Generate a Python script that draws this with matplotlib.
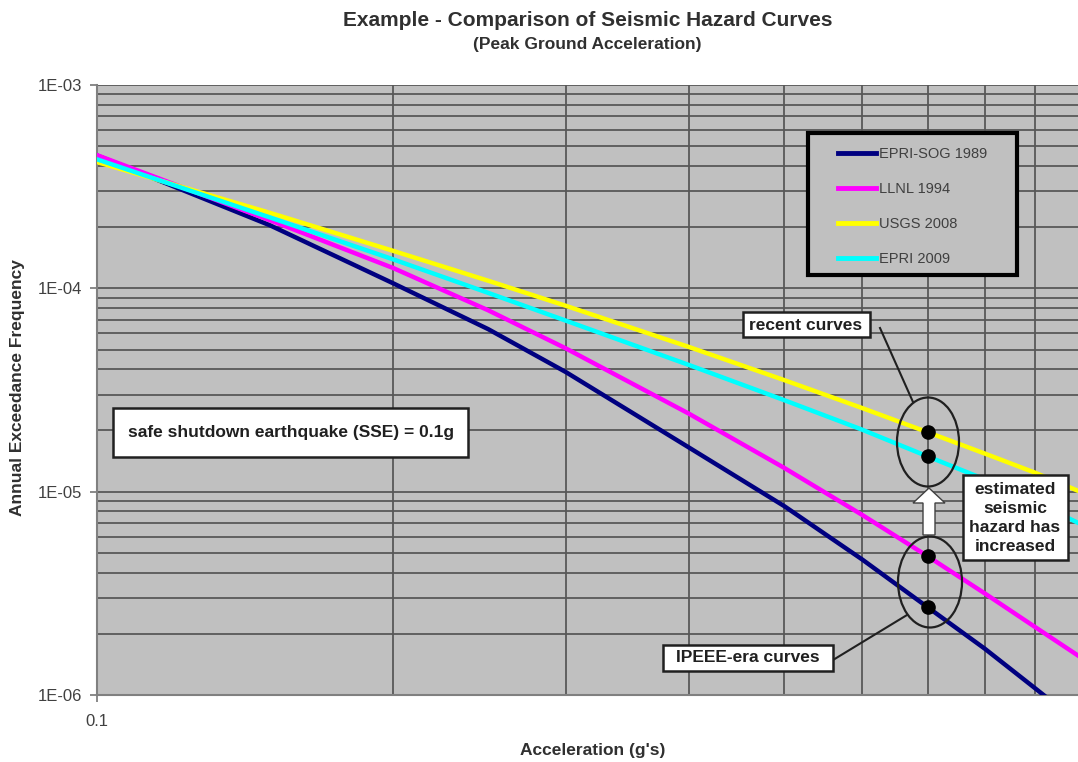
import matplotlib
matplotlib.use("Agg")
import matplotlib.pyplot as plt
from matplotlib.patches import Rectangle, Ellipse, Polygon
from matplotlib.lines import Line2D
from matplotlib.ticker import FixedLocator, LogLocator, NullFormatter, FixedFormatter

# ---------------- data ----------------
accel = [0.1, 0.15, 0.2, 0.25, 0.3, 0.4, 0.5, 0.6, 0.7, 0.8, 0.9, 1.0]
epri_sog_1989 = [4.5e-4, 2.04e-4, 1.06e-4, 6.3e-5, 3.87e-5, 1.65e-5, 8.5e-6, 4.65e-6, 2.7e-6, 1.69e-6, 1.08e-6, 7.2e-7]
llnl_1994 = [4.52e-4, 2.16e-4, 1.26e-4, 7.8e-5, 5.06e-5, 2.42e-5, 1.31e-5, 7.7e-6, 4.81e-6, 3.16e-6, 2.16e-6, 1.54e-6]
usgs_2008 = [4.18e-4, 2.35e-4, 1.53e-4, 1.09e-4, 8.2e-5, 5.15e-5, 3.54e-5, 2.58e-5, 1.96e-5, 1.54e-5, 1.24e-5, 1.0e-5]
epri_2009 = [4.31e-4, 2.23e-4, 1.39e-4, 9.5e-5, 6.93e-5, 4.2e-5, 2.82e-5, 2.02e-5, 1.49e-5, 1.15e-5, 8.9e-6, 6.95e-6]
series_names = ["EPRI-SOG 1989", "LLNL 1994", "USGS 2008", "EPRI 2009"]
series_colors = ["#000080", "#FF00FF", "#FFFF00", "#00FFFF"]
highlight_accel = 0.7

y_ticks = [1e-6, 1e-5, 1e-4, 1e-3]
y_tick_labels = ["1E-06", "1E-05", "1E-04", "1E-03"]
x_ticks = [0.1, 1.0]
x_tick_labels = ["0.1", ""]

title = "Example - Comparison of Seismic Hazard Curves"
subtitle = "(Peak Ground Acceleration)"
x_label = "Acceleration (g's)"
y_label = "Annual Exceedance Frequency"
sse_note = "safe shutdown earthquake (SSE) = 0.1g"
recent_note = "recent curves"
ipeee_note = "IPEEE-era curves"
increase_note = "estimated\nseismic\nhazard has\nincreased"

# ---------------- figure ----------------
plt.rcParams['font.family'] = ['Liberation Sans', 'DejaVu Sans']
fig = plt.figure(figsize=(10.78, 7.62), dpi=100)
W, H = 1078, 762
ax_l, ax_r, ax_t, ax_b = 97, 1080, 85, 695
ax = fig.add_axes([ax_l / W, 1 - ax_b / H, (ax_r - ax_l) / W, (ax_b - ax_t) / H])
ax.set_facecolor("#C0C0C0")
ax.set_xscale("log")
ax.set_yscale("log")
ax.set_xlim(0.1, 1.0)
ax.set_ylim(1e-6, 1e-3)

def fx(px):
    return (px - ax_l) / (ax_r - ax_l)

def fy(py):
    return (ax_b - py) / (ax_b - ax_t)

all_series = [epri_sog_1989, llnl_1994, usgs_2008, epri_2009]
for vals, name, col in zip(all_series, series_names, series_colors):
    ax.plot(accel, vals, color=col, lw=3.2, label=name, zorder=3,
            solid_joinstyle="round")

# highlighted points
idx = accel.index(highlight_accel)
ax.plot([highlight_accel] * 4, [s[idx] for s in all_series], 'o', color="black",
        ms=9.5, zorder=8, linestyle="none")

# ticks / grid
ax.yaxis.set_major_locator(FixedLocator(y_ticks))
ax.yaxis.set_major_formatter(FixedFormatter(y_tick_labels))
ax.yaxis.set_minor_locator(LogLocator(base=10, subs=range(2, 10)))
ax.yaxis.set_minor_formatter(NullFormatter())
ax.xaxis.set_major_locator(FixedLocator(x_ticks))
ax.xaxis.set_major_formatter(FixedFormatter(x_tick_labels))
ax.xaxis.set_minor_locator(LogLocator(base=10, subs=range(2, 10)))
ax.xaxis.set_minor_formatter(NullFormatter())
ax.grid(which="both", color="#585858", lw=1.3)
ax.set_axisbelow(True)
ax.tick_params(which="major", length=5, width=1.3, color="#808080",
               labelsize=12, labelcolor="#404040")
ax.tick_params(axis="y", pad=6)
ax.tick_params(axis="x", pad=9)
ax.tick_params(which="minor", length=0)
for s in ["top", "right"]:
    ax.spines[s].set_visible(False)
for s in ["left", "bottom"]:
    ax.spines[s].set_color("#808080")
    ax.spines[s].set_linewidth(1.5)

# titles & labels
fig.text((ax_l + 1078) / 2 / W, 1 - 20 / H, title, ha="center", va="center",
         fontsize=15, fontweight="bold", color="#303030")
fig.text((ax_l + 1078) / 2 / W, 1 - 44 / H, subtitle, ha="center", va="center",
         fontsize=12.5, fontweight="bold", color="#303030")
fig.text(593 / W, 1 - 751 / H, x_label, ha="center", va="center",
         fontsize=12.5, fontweight="bold", color="#303030")
fig.text(18 / W, 1 - 388 / H, y_label, ha="center", va="center", rotation=90,
         fontsize=12.5, fontweight="bold", color="#303030")

# legend with separate frame
ax.add_patch(Rectangle((fx(808), fy(275)), fx(1017) - fx(808), fy(133) - fy(275),
                       transform=ax.transAxes, facecolor="#C0C0C0", edgecolor="black",
                       lw=3, zorder=9))
leg = ax.legend(loc="upper left", bbox_to_anchor=(fx(838), fy(147)), frameon=False,
                borderpad=0, borderaxespad=0, handlelength=2.6, handletextpad=0.2,
                labelspacing=1.45, fontsize=10.5)
for t in leg.get_texts():
    t.set_color("#404040")
for h in leg.get_lines():
    h.set_linewidth(3.5)
leg.set_zorder(10)

# annotation boxes
def note_box(x0, y0, x1, y1, text, tx, ty, ls=1.2):
    ax.add_patch(Rectangle((fx(x0), fy(y1)), fx(x1) - fx(x0), fy(y0) - fy(y1),
                           transform=ax.transAxes, facecolor="white", edgecolor="#202020",
                           lw=1.8, zorder=9))
    ax.text(fx(tx), fy(ty), text, transform=ax.transAxes, ha="center", va="center",
            fontsize=12.5, fontweight="bold", color="#202020", zorder=10,
            linespacing=ls, multialignment="center")

note_box(113, 408, 468, 457, sse_note, 291, 433)
note_box(743, 312, 870, 337, recent_note, 806, 325)
note_box(663, 645, 833, 671, ipeee_note, 748, 658)
note_box(963, 475, 1068, 560, increase_note, 1015, 518, ls=1.33)

# leader lines
ax.add_line(Line2D([fx(880), fx(913)], [fy(328), fy(402)], transform=ax.transAxes,
                   color="#202020", lw=1.5, zorder=7))
ax.add_line(Line2D([fx(833), fx(907)], [fy(660), fy(615)], transform=ax.transAxes,
                   color="#202020", lw=1.5, zorder=7))

# ellipses
ax.add_patch(Ellipse((fx(928), fy(442)), fx(959) - fx(897), fy(398) - fy(487),
                     transform=ax.transAxes, facecolor="none", edgecolor="#202020",
                     lw=1.6, zorder=7))
ax.add_patch(Ellipse((fx(930), fy(582)), fx(962) - fx(898), fy(537) - fy(628),
                     transform=ax.transAxes, facecolor="none", edgecolor="#202020",
                     lw=1.6, zorder=7))

# block arrow
arrow_pts = [(923, 535), (935, 535), (935, 503), (945, 503), (929, 488),
             (913, 503), (923, 503)]
ax.add_patch(Polygon([(fx(px), fy(py)) for px, py in arrow_pts], closed=True,
                     transform=ax.transAxes, facecolor="white", edgecolor="#404040",
                     lw=1.0, zorder=9))

fig.savefig("out.png", dpi=100)
